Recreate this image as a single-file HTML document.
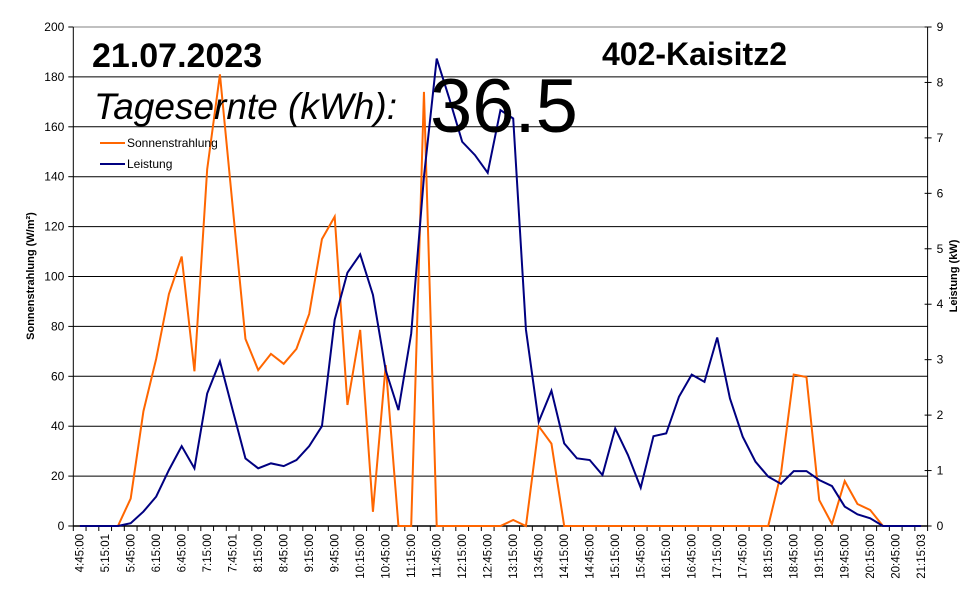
<!DOCTYPE html>
<html><head><meta charset="utf-8"><style>
html,body{margin:0;padding:0;background:#fff;}
svg{display:block;font-family:"Liberation Sans",Arial,sans-serif;}
</style></head><body>
<svg id="chart" width="970" height="604" viewBox="0 0 970 604" xmlns="http://www.w3.org/2000/svg">
<rect x="0" y="0" width="970" height="604" fill="#fff"/>
<g id="grid"></g>
<g id="axes"></g>
<g id="series"></g>
<text x="92" y="67" font-size="34" font-weight="bold">21.07.2023</text>
<text x="602" y="65" font-size="32" font-weight="bold">402-Kaisitz2</text>
<text x="94" y="119" font-size="37" font-style="italic">Tagesernte (kWh):</text>
<text x="430" y="132" font-size="76">36.5</text>
<g>
<line x1="100" y1="143" x2="125" y2="143" stroke="#ff6600" stroke-width="2"/>
<text x="127" y="147" font-size="12">Sonnenstrahlung</text>
<line x1="100" y1="164" x2="125" y2="164" stroke="#000080" stroke-width="2"/>
<text x="127" y="168" font-size="12">Leistung</text>
</g>
<text transform="translate(34,276) rotate(-90)" text-anchor="middle" font-size="11" font-weight="bold">Sonnenstrahlung (W/m²)</text>
<text transform="translate(957,276) rotate(-90)" text-anchor="middle" font-size="11" font-weight="bold">Leistung (kW)</text>
</svg>
<script>
const categories = ["4:45:00","5:00:00","5:15:01","5:30:00","5:45:00","6:00:00","6:15:00","6:30:00","6:45:00","7:00:00","7:15:00","7:30:00","7:45:01","8:00:00","8:15:00","8:30:00","8:45:00","9:00:00","9:15:00","9:30:00","9:45:00","10:00:00","10:15:00","10:30:00","10:45:00","11:00:00","11:15:00","11:30:00","11:45:00","12:00:00","12:15:00","12:30:00","12:45:00","13:00:00","13:15:00","13:30:00","13:45:00","14:00:00","14:15:00","14:30:00","14:45:00","15:00:00","15:15:00","15:30:00","15:45:00","16:00:00","16:15:00","16:30:00","16:45:00","17:00:00","17:15:00","17:30:00","17:45:00","18:00:00","18:15:00","18:30:00","18:45:00","19:00:00","19:15:00","19:30:00","19:45:00","20:00:00","20:15:00","20:30:00","20:45:00","21:00:00","21:15:03"];
const sonnenstrahlung = [0,0,0,0,11,46,67,93,108,62,143,181,128,75,62.5,69,65,71,85,115,124,48.5,78.6,5.7,64.5,0,0,174,0,0,0,0,0,0,2.4,0,40,33,0,0,0,0,0,0,0,0,0,0,0,0,0,0,0,0,0,21,60.7,59.7,10.4,0.8,18,8.8,6.4,0,0,0,0];
const leistung = [0,0,0,0,0.05,0.26,0.53,1.01,1.44,1.04,2.39,2.97,2.09,1.22,1.04,1.13,1.08,1.19,1.44,1.8,3.72,4.57,4.9,4.17,2.81,2.09,3.47,6.3,8.43,7.7,6.93,6.69,6.37,7.5,7.35,3.54,1.88,2.44,1.49,1.22,1.19,0.92,1.76,1.28,0.69,1.62,1.67,2.33,2.73,2.6,3.4,2.3,1.61,1.16,0.89,0.76,0.99,0.99,0.83,0.72,0.35,0.21,0.14,0,0,0,0];
const leftTicks = [0,20,40,60,80,100,120,140,160,180,200];
const rightTicks = [0,1,2,3,4,5,6,7,8,9];

const NS = "http://www.w3.org/2000/svg";
const X0 = 73.3, X1 = 927.6, Y0 = 526, Y1 = 27;
const leftMax = 200, rightMax = 9;
const catW = (X1 - X0) / categories.length;
function xPos(i){ return X0 + catW * (i + 0.5); }
function yLeft(v){ return Y0 - (v / leftMax) * (Y0 - Y1); }
function yRight(v){ return Y0 - (v / rightMax) * (Y0 - Y1); }
function mk(tag, attrs, parent){
  const el = document.createElementNS(NS, tag);
  for (const k in attrs) el.setAttribute(k, attrs[k]);
  parent.appendChild(el);
  return el;
}
const grid = document.getElementById('grid');
const axes = document.getElementById('axes');
const series = document.getElementById('series');

leftTicks.forEach(function(t){
  const y = yLeft(t);
  if (t > 0) {
    const g = mk('line', {x1:X0, y1:y, x2:X1, y2:y, stroke: t === leftMax ? '#808080' : '#000', 'stroke-width':1}, grid);
    
    
  }
  const tk = mk('line', {x1:X0-5, y1:y, x2:X0, y2:y, stroke:'#000', 'stroke-width':1}, axes);
  
  
  const lb = mk('text', {x:X0-9, y:y+4, 'text-anchor':'end', 'font-size':12}, axes);
  lb.textContent = t;
  
  
});
rightTicks.forEach(function(t){
  const y = yRight(t);
  const tk = mk('line', {x1:X1-3, y1:y, x2:X1+4, y2:y, stroke:'#000', 'stroke-width':1}, axes);
  
  
  const lb = mk('text', {x:X1+9, y:y+4, 'font-size':12}, axes);
  lb.textContent = t;
  
  
});
const la = mk('line', {x1:X0, y1:Y1, x2:X0, y2:Y0, stroke:'#000', 'stroke-width':1}, axes);


const ra = mk('line', {x1:X1, y1:Y1, x2:X1, y2:Y0, stroke:'#000', 'stroke-width':1}, axes);


const xa = mk('line', {x1:X0, y1:Y0, x2:X1, y2:Y0, stroke:'#000', 'stroke-width':1.5}, axes);


for (let i = 0; i <= categories.length; i++) {
  const x = X0 + catW * i;
  const tk = mk('line', {x1:x, y1:Y0, x2:x, y2:Y0+5, stroke:'#000', 'stroke-width':1}, axes);
  
  
}
categories.forEach(function(c, i){
  if (i % 2 !== 0) return;
  const x = xPos(i) + 4;
  const lb = mk('text', {transform:'translate(' + x + ',' + (Y0+8) + ') rotate(-90)', 'text-anchor':'end', 'font-size':11.5}, axes);
  lb.textContent = c;
  
  
});
function linePath(vals, yf){
  return vals.map(function(v, i){ return (i ? 'L' : 'M') + xPos(i).toFixed(2) + ' ' + yf(v).toFixed(2); }).join(' ');
}
const pS = mk('path', {d: linePath(sonnenstrahlung, yLeft), fill:'none', stroke:'#ff6600', 'stroke-width':2, 'stroke-linejoin':'miter'}, series);


const pL = mk('path', {d: linePath(leistung, yRight), fill:'none', stroke:'#000080', 'stroke-width':2, 'stroke-linejoin':'miter'}, series);


</script>
</body></html>
